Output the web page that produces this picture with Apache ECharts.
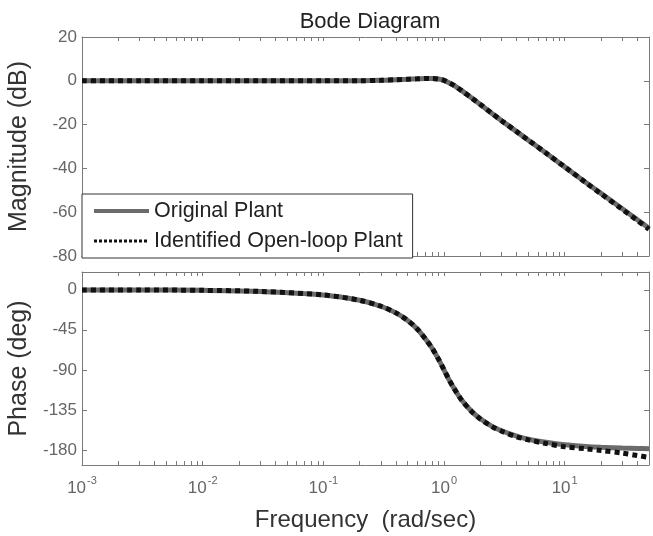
<!DOCTYPE html>
<html>
<head>
<meta charset="utf-8">
<script src="https://cdn.jsdelivr.net/npm/echarts@6/dist/echarts.min.js"></script>
<style>
  html, body { margin: 0; padding: 0; background: #fff; }
  #chart { width: 653px; height: 536px; }
</style>
</head>
<body>
<div id="chart"></div>
<script>
// frequency points (rad/sec)
const freq = [0.001, 0.003, 0.01, 0.03, 0.1, 0.2, 0.3, 0.4, 0.5, 0.6, 0.7, 0.8, 0.9, 1,
  1.1, 1.2, 1.4, 1.7, 2, 2.5, 3, 4, 5, 7, 10, 15, 20, 30, 40, 50];

// magnitude (dB)
const magOriginal = [0, 0, 0, 0, 0, 0.05, 0.2, 0.5, 0.7, 0.9, 1.1, 1.1, 0.8, 0.2,
  -0.9, -2.0, -4.5, -7.9, -10.8, -14.9, -18.2, -23.2, -27.1, -33.0, -39.3, -46.4, -51.4, -58.4, -63.4, -67.3];
const magIdentified = [0, 0, 0, 0, 0, 0.05, 0.2, 0.5, 0.7, 0.9, 1.1, 1.1, 0.8, 0.2,
  -0.9, -2.0, -4.5, -7.9, -10.8, -14.9, -18.2, -23.2, -27.1, -33.0, -39.3, -46.5, -51.6, -58.7, -63.8, -67.8];

// phase (deg)
const phaseOriginal = [-0.1, -0.2, -0.6, -1.8, -5.8, -11.8, -18.5, -26, -34.5, -44, -55, -66, -78, -90,
  -101, -110, -124, -137, -145, -153.5, -158.5, -164.5, -168, -171.5, -174.3, -176.2, -177.1, -178, -178.4, -178.7];
const phaseIdentified = [-0.1, -0.2, -0.6, -1.8, -5.8, -11.8, -18.5, -26, -34.5, -44, -55, -66, -78, -90,
  -101, -110, -124, -137, -145.2, -153.8, -159, -165.2, -168.8, -172.8, -176.5, -178.8, -180.6, -183.6, -186.3, -188.5];

// tick values
const freqMajor = [0.001, 0.01, 0.1, 1, 10];
const freqTicks = [0.001, 0.002, 0.003, 0.004, 0.005, 0.006, 0.007, 0.008, 0.009,
  0.01, 0.02, 0.03, 0.04, 0.05, 0.06, 0.07, 0.08, 0.09,
  0.1, 0.2, 0.3, 0.4, 0.5, 0.6, 0.7, 0.8, 0.9,
  1, 2, 3, 4, 5, 6, 7, 8, 9,
  10, 20, 30, 40, 50];
const phaseTicks = [0, -45, -90, -135, -180];

const font = 'Liberation Sans, Arial, Helvetica, sans-serif';
const boxColor = '#7a7a7a';
const tickColor = '#666';

function pairs(ys) {
  return freq.map((f, i) => [f, ys[i]]);
}

function freqAxis(gridIndex, position, withLabels) {
  return {
    type: 'log',
    logBase: 10,
    gridIndex: gridIndex,
    position: position,
    min: 0.001,
    max: 50,
    axisLine: { show: true, onZero: false, lineStyle: { color: boxColor, width: 1 } },
    axisTick: {
      show: true, inside: true, length: 4,
      customValues: freqTicks,
      lineStyle: { color: boxColor }
    },
    axisLabel: withLabels ? {
      show: true,
      customValues: freqMajor,
      margin: 10,
      color: tickColor,
      fontFamily: font,
      formatter: function (v) {
        return '{b|10}{s|' + Math.round(Math.log10(v)) + '}';
      },
      rich: {
        b: { fontSize: 17, fontFamily: font, color: tickColor, lineHeight: 22, verticalAlign: 'bottom' },
        s: { fontSize: 11, fontFamily: font, color: tickColor, lineHeight: 22, verticalAlign: 'top', padding: [0, 0, 10, 1] }
      }
    } : { show: false },
    splitLine: { show: false },
    name: withLabels ? 'Frequency  (rad/sec)' : '',
    nameLocation: 'middle',
    nameGap: 43,
    nameTextStyle: { fontSize: 24, fontFamily: font, color: '#333' }
  };
}

function valueAxis(gridIndex, position, cfg) {
  const left = position === 'left';
  return Object.assign({
    type: 'value',
    gridIndex: gridIndex,
    position: position,
    axisLine: { show: true, onZero: false, lineStyle: { color: boxColor, width: 1 } },
    axisTick: { show: true, inside: true, length: 5, lineStyle: { color: boxColor } },
    axisLabel: left ? { show: true, color: tickColor, fontSize: 17, fontFamily: font, margin: 5 } : { show: false },
    splitLine: { show: false },
    nameLocation: 'middle',
    nameGap: 50,
    nameTextStyle: { fontSize: 25, fontFamily: font, color: '#333' }
  }, cfg);
}

const solid = { color: '#6b6b6b', width: 5, type: 'solid' };
const dotted = { color: '#111', width: 5, type: [5, 4] };

const chart = echarts.init(document.getElementById('chart'));
chart.setOption({
  animation: false,
  backgroundColor: '#fff',
  title: {
    text: 'Bode Diagram',
    left: 365,
    top: 6,
    textAlign: 'center',
    textStyle: { fontSize: 22, fontWeight: 'normal', fontFamily: font, color: '#222' }
  },
  legend: {
    left: 82,
    top: 194,
    orient: 'vertical',
    data: [
      { name: 'Original Plant', lineStyle: { color: '#6b6b6b', width: 4, type: 'solid' } },
      { name: 'Identified Open-loop Plant', lineStyle: { color: '#111', width: 3, type: [3, 2] } }
    ],
    itemWidth: 55,
    itemHeight: 14,
    itemGap: 8,
    padding: [6, 10, 6, 10],
    borderColor: '#333',
    borderWidth: 1,
    borderRadius: 0,
    backgroundColor: '#fff',
    selectedMode: false,
    itemStyle: { opacity: 0 },
    textStyle: { fontSize: 21.5, fontFamily: font, color: '#222' }
  },
  grid: [
    { left: 82, right: 4, top: 37, height: 219, outerBoundsMode: 'none' },
    { left: 82, right: 4, top: 272, height: 193, outerBoundsMode: 'none' }
  ],
  xAxis: [
    freqAxis(0, 'bottom', false),
    freqAxis(0, 'top', false),
    freqAxis(1, 'bottom', true),
    freqAxis(1, 'top', false)
  ],
  yAxis: [
    valueAxis(0, 'left', { min: -80, max: 20, interval: 20, name: 'Magnitude (dB)' }),
    valueAxis(0, 'right', { min: -80, max: 20, interval: 20 }),
    valueAxis(1, 'left', {
      min: -197, max: 20, name: 'Phase (deg)',
      axisTick: { show: true, inside: true, length: 5, customValues: phaseTicks, lineStyle: { color: boxColor } },
      axisLabel: { show: true, customValues: phaseTicks, color: tickColor, fontSize: 17, fontFamily: font, margin: 5 }
    }),
    valueAxis(1, 'right', {
      min: -197, max: 20,
      axisTick: { show: true, inside: true, length: 5, customValues: phaseTicks, lineStyle: { color: boxColor } }
    })
  ],
  series: [
    {
      name: 'Original Plant', type: 'line', xAxisIndex: 0, yAxisIndex: 0,
      data: pairs(magOriginal), symbol: 'none', smooth: 0.3, lineStyle: solid, itemStyle: { color: solid.color }, z: 2
    },
    {
      name: 'Identified Open-loop Plant', type: 'line', xAxisIndex: 0, yAxisIndex: 0,
      data: pairs(magIdentified), symbol: 'none', smooth: 0.3, lineStyle: dotted, itemStyle: { color: dotted.color }, z: 3
    },
    {
      name: 'Original Plant', type: 'line', xAxisIndex: 2, yAxisIndex: 2,
      data: pairs(phaseOriginal), symbol: 'none', smooth: 0.3, lineStyle: solid, itemStyle: { color: solid.color }, z: 2
    },
    {
      name: 'Identified Open-loop Plant', type: 'line', xAxisIndex: 2, yAxisIndex: 2,
      data: pairs(phaseIdentified), symbol: 'none', smooth: 0.3, lineStyle: dotted, itemStyle: { color: dotted.color }, z: 3
    }
  ]
});
</script>
</body>
</html>
